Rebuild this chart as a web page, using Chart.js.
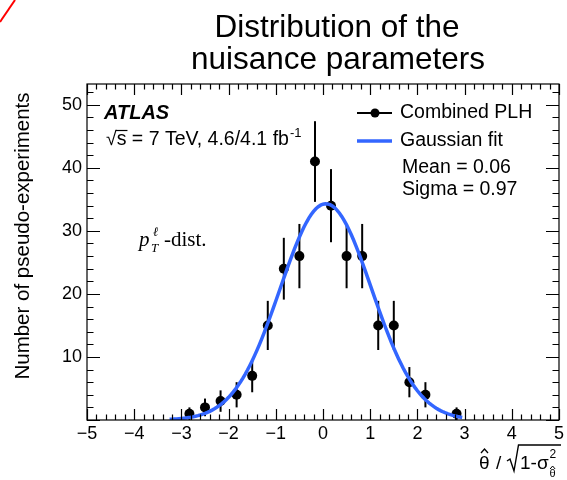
<!DOCTYPE html>
<html>
<head>
<meta charset="utf-8">
<script src="https://cdn.jsdelivr.net/npm/chart.js@4.4.1/dist/chart.umd.min.js"></script>
<style>
  html, body { margin: 0; padding: 0; background: #fff; }
  canvas { display: block; }
</style>
</head>
<body>
<canvas id="chart" width="567" height="480"></canvas>
<script>
// pseudo-experiments: bin centres, entries and statistical errors
const binCenters = [-2.83, -2.5, -2.17, -1.83, -1.5, -1.17, -0.83, -0.5, -0.17, 0.17, 0.5, 0.83, 1.17, 1.5, 1.83, 2.17, 2.83];
const counts = [1, 2, 3, 4, 7, 15, 24, 26, 41, 34, 26, 26, 15, 15, 6, 4, 1];
const countErrors = [1, 1.4, 1.7, 2, 2.6, 3.9, 4.9, 5.1, 6.4, 5.8, 5.1, 5.1, 3.9, 3.9, 2.4, 2, 1];

// gaussian fit parameters
const fitConstant = 34.3;
const fitMean = 0.06;
const fitSigma = 0.97;
const fitRange = [-3.25, 2.95];

const SANS = '"Liberation Sans", Arial, sans-serif';
const SERIF = '"Liberation Serif", "Times New Roman", serif';
const BLUE = '#3366ff';

const fitCurve = [];
for (let x = fitRange[0]; x <= fitRange[1] + 1e-9; x += 0.05) {
  fitCurve.push({ x: x, y: fitConstant * Math.exp(-0.5 * Math.pow((x - fitMean) / fitSigma, 2)) });
}

const points = binCenters.map((x, i) => ({ x: x, y: counts[i] }));

function drawHat(ctx, cx, y, w, h) {
  ctx.beginPath();
  ctx.moveTo(cx - w / 2, y + h);
  ctx.lineTo(cx, y);
  ctx.lineTo(cx + w / 2, y + h);
  ctx.stroke();
}

// vertical error bars under the markers
const errorBars = {
  id: 'errorBars',
  beforeDatasetsDraw(chart) {
    const { ctx, scales: { x, y } } = chart;
    ctx.save();
    ctx.strokeStyle = '#000';
    ctx.lineWidth = 2;
    binCenters.forEach((c, i) => {
      const px = x.getPixelForValue(c);
      ctx.beginPath();
      ctx.moveTo(px, y.getPixelForValue(counts[i] - countErrors[i]));
      ctx.lineTo(px, y.getPixelForValue(counts[i] + countErrors[i]));
      ctx.stroke();
    });
    ctx.restore();
  }
};

// ROOT style frame with inward ticks on all four sides
const frameTicks = {
  id: 'frameTicks',
  afterDraw(chart) {
    const { ctx, chartArea: a, scales: { x, y } } = chart;
    ctx.save();
    ctx.strokeStyle = '#000';
    ctx.lineWidth = 1.2;
    ctx.strokeRect(a.left, a.top, a.right - a.left, a.bottom - a.top);
    ctx.beginPath();
    for (let i = -25; i <= 25; i++) {
      const px = Math.round(x.getPixelForValue(i / 5)) + 0.5;
      const len = i % 5 === 0 ? 11 : 5.5;
      ctx.moveTo(px, a.bottom); ctx.lineTo(px, a.bottom - len);
      ctx.moveTo(px, a.top); ctx.lineTo(px, a.top + len);
    }
    for (let v = 0; v <= 52; v += 2) {
      const py = Math.round(y.getPixelForValue(v)) + 0.5;
      const len = v % 10 === 0 ? 13 : 6.5;
      ctx.moveTo(a.left, py); ctx.lineTo(a.left + len, py);
      ctx.moveTo(a.right, py); ctx.lineTo(a.right - len, py);
    }
    ctx.stroke();
    ctx.restore();
  }
};

// title, axis titles, legend and labels
const annotations = {
  id: 'annotations',
  afterDraw(chart) {
    const ctx = chart.ctx;
    ctx.save();
    ctx.fillStyle = '#000';
    ctx.strokeStyle = '#000';

    // corner mark
    ctx.save();
    ctx.strokeStyle = '#ff0000';
    ctx.lineWidth = 2;
    ctx.beginPath();
    ctx.moveTo(0, 22);
    ctx.lineTo(15, 0);
    ctx.stroke();
    ctx.restore();

    ctx.textAlign = 'center';
    ctx.textBaseline = 'alphabetic';
    ctx.font = '31.5px ' + SANS;
    ctx.fillText('Distribution of the', 337, 37);
    ctx.fillText('nuisance parameters', 338, 69);

    // y axis title
    ctx.save();
    ctx.translate(29, 236);
    ctx.rotate(-Math.PI / 2);
    ctx.font = '20.5px ' + SANS;
    ctx.fillText('Number of pseudo-experiments', 0, 0);
    ctx.restore();

    // ATLAS label
    ctx.textAlign = 'left';
    ctx.font = 'italic bold 20px ' + SANS;
    ctx.fillText('ATLAS', 104, 119);
    ctx.font = '19.5px ' + SANS;
    ctx.fillText('\u221A', 106, 145);
    const rw = ctx.measureText('\u221A').width;
    ctx.fillText('s = 7 TeV, 4.6/4.1 fb', 106 + rw, 145);
    const sw = ctx.measureText('s').width;
    ctx.lineWidth = 1.2;
    ctx.beginPath();
    ctx.moveTo(106 + rw - 1, 130.5);
    ctx.lineTo(106 + rw + sw + 1, 130.5);
    ctx.stroke();
    const lw = ctx.measureText('s = 7 TeV, 4.6/4.1 fb').width;
    ctx.font = '13px ' + SANS;
    ctx.fillText('-1', 106 + rw + lw + 1, 137);

    // legend
    ctx.lineWidth = 2;
    ctx.beginPath();
    ctx.moveTo(357, 113); ctx.lineTo(392, 113);
    ctx.stroke();
    ctx.beginPath();
    ctx.arc(375, 113, 4.5, 0, Math.PI * 2);
    ctx.fill();
    ctx.strokeStyle = BLUE;
    ctx.lineWidth = 3.5;
    ctx.beginPath();
    ctx.moveTo(357, 141); ctx.lineTo(392, 141);
    ctx.stroke();
    ctx.strokeStyle = '#000';
    ctx.font = '19.5px ' + SANS;
    ctx.textBaseline = 'middle';
    ctx.fillText('Combined PLH', 400, 113);
    ctx.fillText('Gaussian fit', 400, 141);
    ctx.fillText('Mean = ' + fitMean.toFixed(2), 402, 168);
    ctx.fillText('Sigma = ' + fitSigma.toFixed(2), 402, 190);
    ctx.textBaseline = 'alphabetic';

    // observable label
    ctx.font = 'italic 21px ' + SERIF;
    ctx.fillText('p', 139, 246);
    ctx.font = 'italic 13px ' + SERIF;
    ctx.fillText('\u2113', 153, 236);
    ctx.fillText('T', 151, 252);
    ctx.font = '21px ' + SERIF;
    ctx.fillText('-dist.', 164, 246);

    // x axis title
    ctx.font = '19px ' + SANS;
    ctx.fillText('\u03B8', 479, 469);
    ctx.lineWidth = 1.3;
    drawHat(ctx, 484.5, 449, 7, 4);
    ctx.fillText('/', 496, 469);
    ctx.lineWidth = 1.4;
    ctx.beginPath();
    ctx.moveTo(507, 461);
    ctx.lineTo(510, 459);
    ctx.lineTo(514, 471);
    ctx.lineTo(518.5, 445);
    ctx.lineTo(561, 445);
    ctx.stroke();
    ctx.fillText('1-\u03C3', 520, 469);
    const tw = ctx.measureText('1-\u03C3').width;
    ctx.font = '12px ' + SANS;
    ctx.fillText('2', 520 + tw + 1, 458);
    ctx.font = '11px ' + SANS;
    ctx.fillText('\u03B8', 520 + tw + 1, 477);
    ctx.lineWidth = 1;
    drawHat(ctx, 520 + tw + 4, 466, 5, 3);

    ctx.restore();
  }
};

new Chart(document.getElementById('chart'), {
  type: 'scatter',
  data: {
    datasets: [
      {
        label: 'Gaussian fit',
        data: fitCurve,
        showLine: true,
        borderColor: BLUE,
        borderWidth: 3.5,
        pointRadius: 0,
        tension: 0,
        fill: false
      },
      {
        label: 'Combined PLH',
        data: points,
        backgroundColor: '#000',
        borderWidth: 0,
        pointRadius: 5
      }
    ]
  },
  options: {
    responsive: false,
    animation: false,
    layout: { padding: { left: 0, right: 7, top: 84, bottom: 0 } },
    plugins: {
      legend: { display: false },
      tooltip: { enabled: false },
      title: { display: false }
    },
    scales: {
      x: {
        type: 'linear',
        min: -5,
        max: 5,
        afterFit: (s) => { s.height = 60; },
        grid: { display: false, drawTicks: false },
        border: { display: false },
        ticks: {
          stepSize: 1,
          padding: 3,
          maxRotation: 0,
          autoSkip: false,
          color: '#000',
          font: { family: SANS, size: 18 },
          callback: (v) => (v < 0 ? '\u2212' + (-v) : String(v))
        }
      },
      y: {
        type: 'linear',
        min: 0,
        max: 53.3,
        afterFit: (s) => { s.width = 87; },
        grid: { display: false, drawTicks: false },
        border: { display: false },
        ticks: {
          stepSize: 10,
          includeBounds: false,
          padding: 5,
          color: '#000',
          font: { family: SANS, size: 18 },
          callback: (v) => (v === 0 ? '' : String(v))
        }
      }
    }
  },
  plugins: [errorBars, frameTicks, annotations]
});
</script>
</body>
</html>
